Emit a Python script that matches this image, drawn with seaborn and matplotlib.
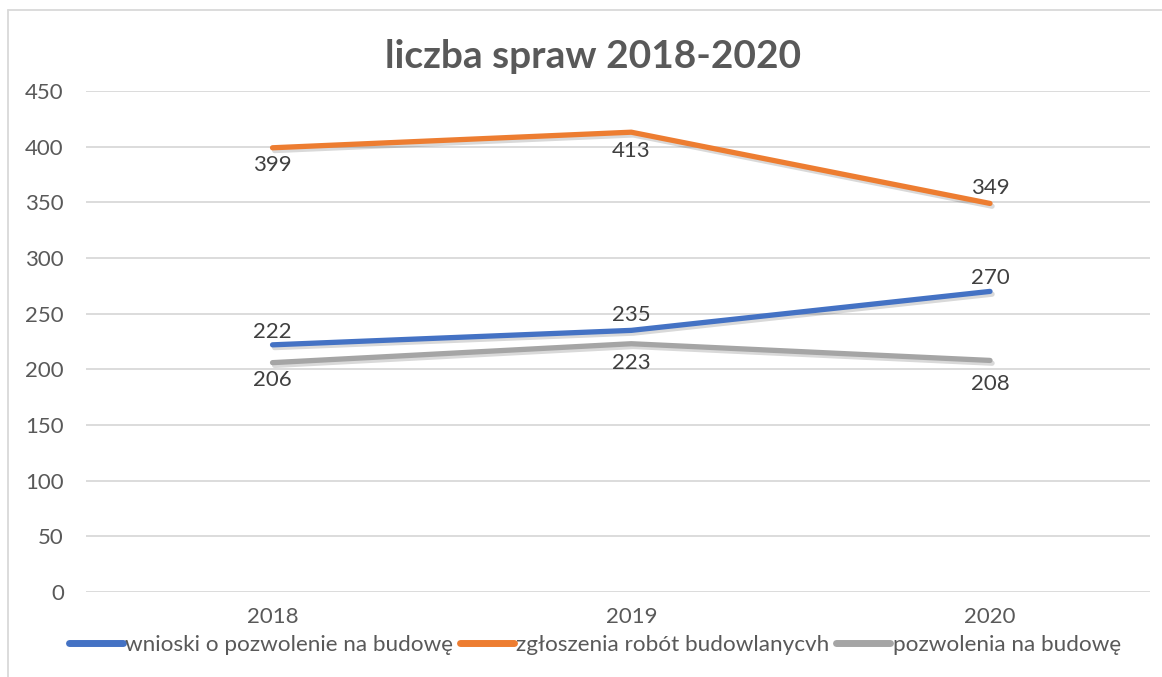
import matplotlib
matplotlib.use("Agg")
import matplotlib.pyplot as plt
import matplotlib.patheffects as pe
from matplotlib.lines import Line2D
import seaborn as sns
import pandas as pd

years = ["2018", "2019", "2020"]
series_names = ["wnioski o pozwolenie na budowę", "zgłoszenia robót budowlanycvh", "pozwolenia na budowę"]
wnioski = [222, 235, 270]
zgloszenia = [399, 413, 349]
pozwolenia = [206, 223, 208]
title = "liczba spraw 2018-2020"
colors = ["#4472C4", "#ED7D31", "#A5A5A5"]

sns.set_theme(style="white")
plt.rcParams['font.family'] = ['Lato', 'DejaVu Sans']

df = pd.DataFrame({
    "year": years * 3,
    "x": list(range(len(years))) * 3,
    "value": wnioski + zgloszenia + pozwolenia,
    "series": [series_names[0]] * 3 + [series_names[1]] * 3 + [series_names[2]] * 3,
})

fig = plt.figure(figsize=(11.62, 6.77), dpi=100)
ax = fig.add_axes([86 / 1162, 85 / 677, (1150 - 86) / 1162, (592 - 91) / 677])

shadow = [pe.SimpleLineShadow(offset=(1.5, -2), shadow_color="black", alpha=0.15), pe.Normal()]
sns.lineplot(data=df, x="x", y="value", hue="series", palette=colors, linewidth=3.8,
             ax=ax, legend=False, sort=False, solid_capstyle="round")
for ln in ax.get_lines():
    ln.set_path_effects(shadow)

label_color = "#404040"
offsets = {
    series_names[0]: [13, 15, 13],
    series_names[1]: [-17, -19, 15],
    series_names[2]: [-17, -19, -24],
}
for name, vals in zip(series_names, [wnioski, zgloszenia, pozwolenia]):
    for i, v in enumerate(vals):
        ax.annotate(str(v), (i, v), xytext=(0, offsets[name][i]), textcoords="offset pixels",
                    ha="center", va="center", fontsize=16, color=label_color)

ax.set_ylim(0, 450)
ax.set_yticks(range(0, 451, 50))
ax.set_xlim(-0.52, 2.446)
ax.set_xticks(range(len(years)))
ax.set_xticklabels(years)
ax.set_xlabel("")
ax.set_ylabel("")
ax.grid(axis="y", color="#D9D9D9", linewidth=1.3)
ax.set_axisbelow(True)
for s in ax.spines.values():
    s.set_visible(False)
ax.tick_params(axis="both", length=0, labelsize=16, colors="#595959")
ax.tick_params(axis="x", pad=11)
ax.tick_params(axis="y", pad=16)

fig.text(593 / 1162, 1 - 57 / 677, title, ha="center", va="center", fontsize=28,
         fontweight="bold", color="#595959")

handles = [Line2D([0], [0], color=c, linewidth=5, solid_capstyle="round") for c in colors]
fig.legend(handles, series_names, loc="center", bbox_to_anchor=(595 / 1162, 1 - 645 / 677),
           ncol=3, frameon=False, fontsize=16.2, handlelength=2.4, handletextpad=0.1,
           columnspacing=0.3, labelcolor="#595959")

# chart border (left and top visible)
fig.add_artist(Line2D([8 / 1162, 8 / 1162], [0, 1 - 10 / 677], transform=fig.transFigure,
                      color="#D9D9D9", linewidth=1.3))
fig.add_artist(Line2D([8 / 1162, 1], [1 - 10 / 677, 1 - 10 / 677], transform=fig.transFigure,
                      color="#D9D9D9", linewidth=1.3))

fig.savefig("out.png", dpi=100)
